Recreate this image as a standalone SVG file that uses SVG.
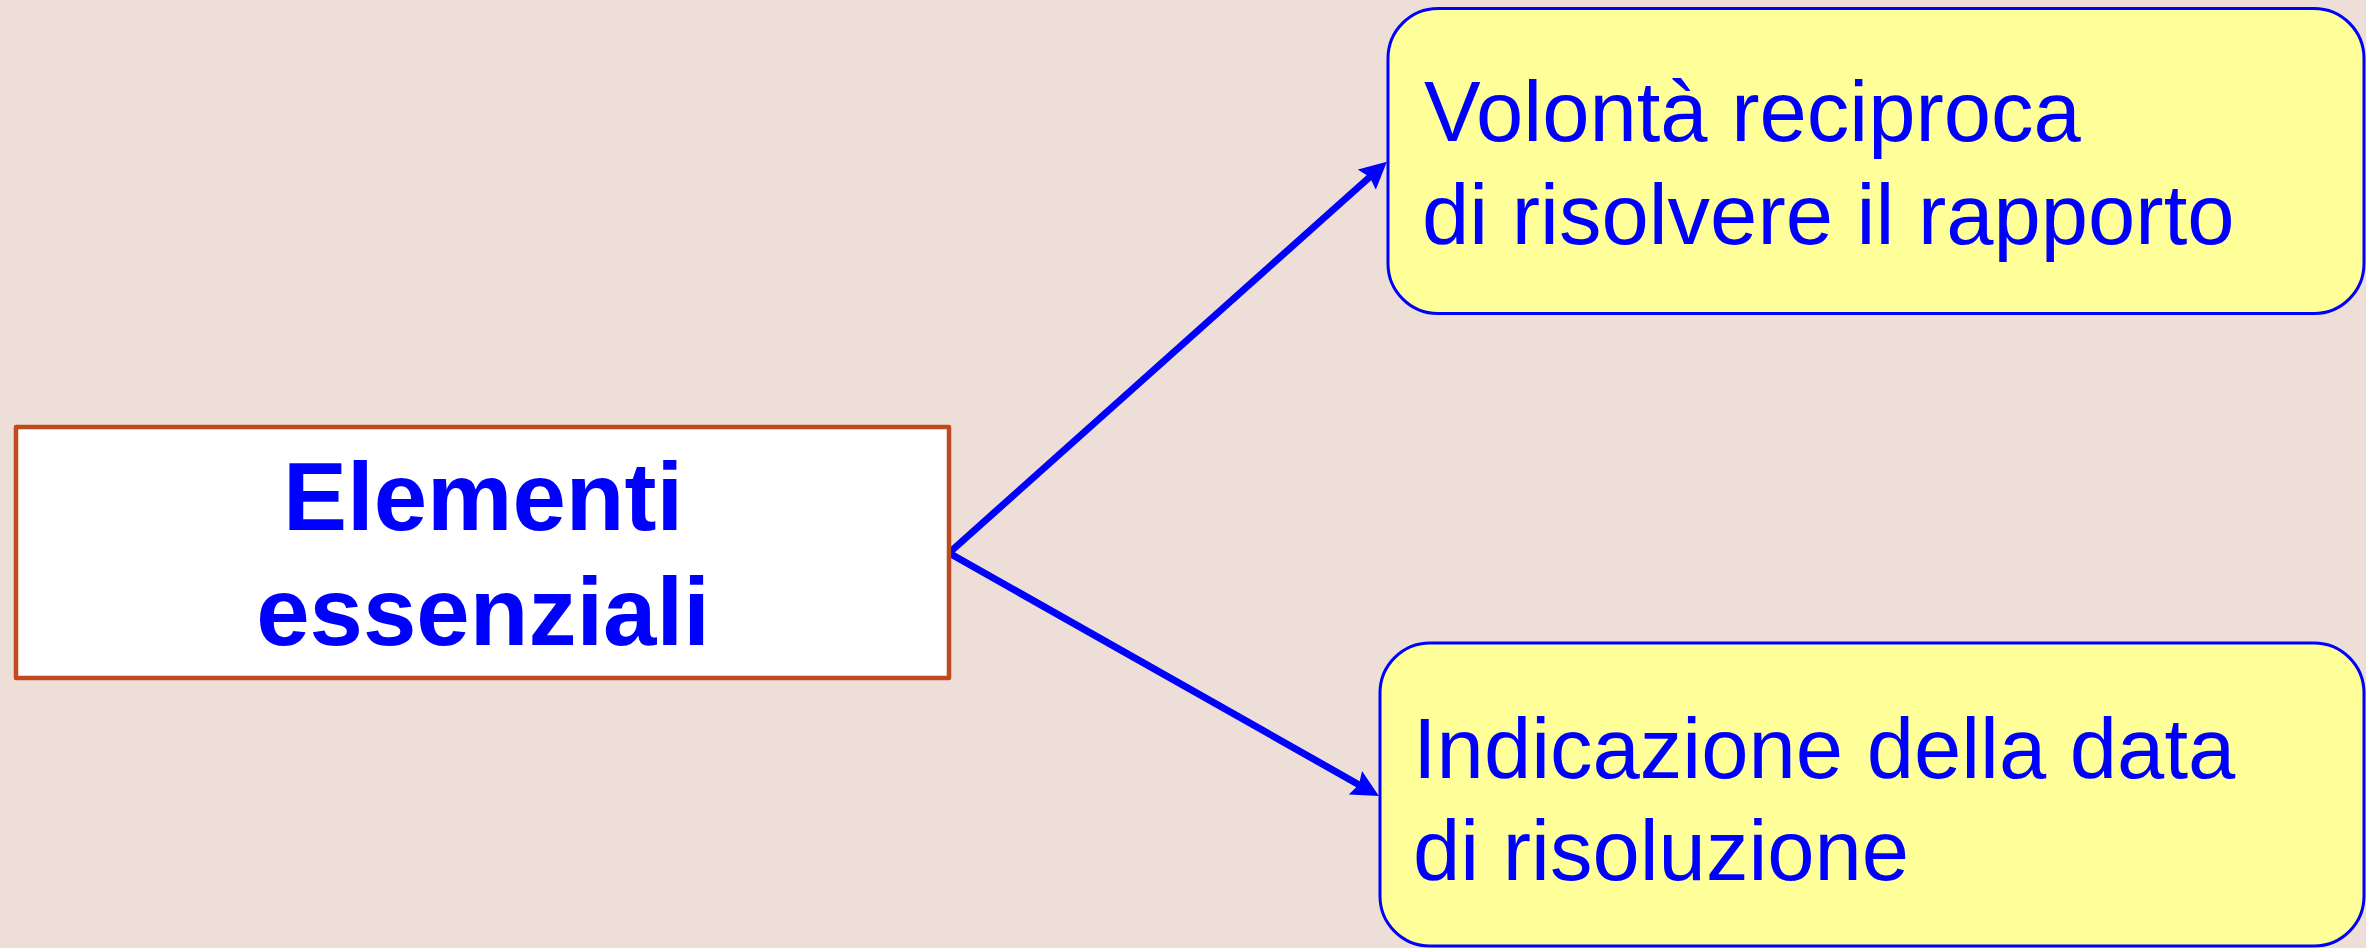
<svg xmlns="http://www.w3.org/2000/svg" width="2366" height="948" viewBox="0 0 2366 948">
  <style>
    .bg { fill: #EEDED8; }
    .main { fill: #FFFFFF; stroke: #BF4A1F; stroke-width: 4.5; stroke-linejoin: round; }
    .note { fill: #FFFF99; stroke: #0000FF; stroke-width: 3; }
    .title { font-family: "Liberation Sans", Arial, sans-serif; font-weight: bold; font-size: 96px; fill: #0000FF; text-anchor: middle; }
    .label { font-family: "Liberation Sans", Arial, sans-serif; font-size: 85px; fill: #0000FF; }
    .link { stroke: #0000FF; stroke-width: 7; fill: none; stroke-linecap: round; marker-end: url(#head); }
  </style>
  <defs>
    <marker id="head" markerUnits="userSpaceOnUse" markerWidth="28" markerHeight="27" viewBox="0 0 28 27" refX="7" refY="13.5" orient="auto">
      <path d="M0,0 L27,13.5 L0,27 L4,13.5 Z" fill="#0000FF"/>
    </marker>
  </defs>

  <rect class="bg" x="0" y="0" width="2366" height="948"/>

  <g id="connectors">
    <line class="link" x1="949" y1="553" x2="1372" y2="175"/>
    <line class="link" x1="949" y1="553" x2="1361.5" y2="786.2"/>
  </g>

  <g id="node-elementi">
    <rect class="main" x="16" y="427" width="933" height="251"/>
    <text class="title" x="483" y="530">Elementi</text>
    <text class="title" x="483" y="645">essenziali</text>
  </g>

  <g id="node-volonta">
    <rect class="note" x="1388" y="8.5" width="976" height="305" rx="50" ry="50"/>
    <text class="label" x="1424" y="141">Volontà reciproca</text>
    <text class="label" x="1422" y="244">di risolvere il rapporto</text>
  </g>

  <g id="node-data">
    <rect class="note" x="1380" y="643" width="984" height="303" rx="50" ry="50"/>
    <text class="label" x="1413" y="778">Indicazione della data</text>
    <text class="label" x="1413" y="880">di risoluzione</text>
  </g>
</svg>
